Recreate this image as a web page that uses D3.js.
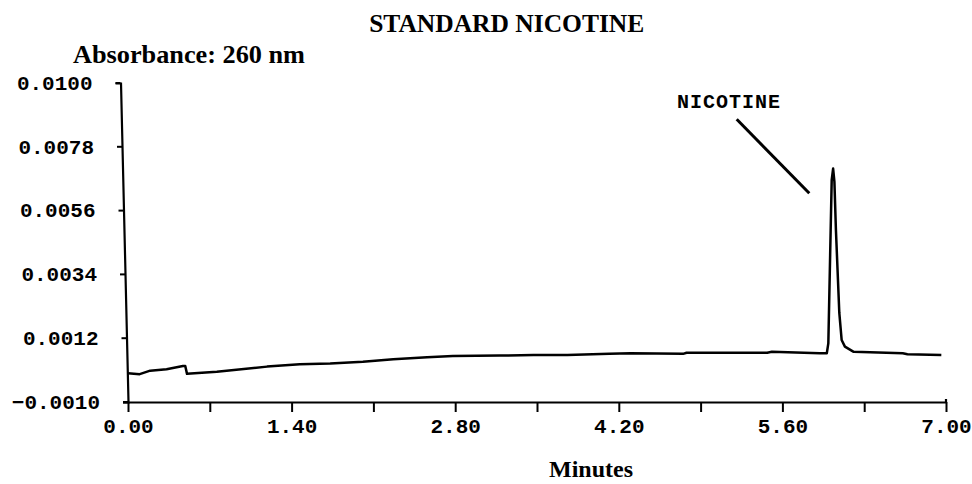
<!DOCTYPE html>
<html>
<head>
<meta charset="utf-8">
<script src="https://cdn.jsdelivr.net/npm/d3@7"></script>
<style>
  html, body { margin: 0; padding: 0; background: #fff; }
  svg { display: block; }
</style>
</head>
<body>
<svg id="chart" width="972" height="484"></svg>
<script>
// ---- data ----
const times = [0, 0.10, 0.19, 0.33, 0.47, 0.49, 0.505, 0.76, 1.19, 1.47, 1.73, 2.01, 2.27, 2.56, 2.78, 3.18, 3.47, 3.76, 4.12, 4.30, 4.75, 4.78, 5.47, 5.51, 5.92, 5.98, 5.993, 6.013, 6.022, 6.034, 6.045, 6.058, 6.087, 6.107, 6.135, 6.21, 6.63, 6.67, 6.96];
const absorbance = [-0.00001, -0.00004, 0.00008, 0.00013, 0.00024, 0.00024, -0.00003, 0.00004, 0.00022, 0.0003, 0.00033, 0.00039, 0.00047, 0.00054, 0.00059, 0.0006, 0.00062, 0.00062, 0.00066, 0.00068, 0.00066, 0.0007, 0.0007, 0.00073, 0.00068, 0.00068, 0.00102, 0.00493, 0.00666, 0.00705, 0.0066, 0.00493, 0.00207, 0.00114, 0.00091, 0.00073, 0.00068, 0.00065, 0.00062];
const xTicks = [0, 0.7, 1.4, 2.1, 2.8, 3.5, 4.2, 4.9, 5.6, 6.3, 7.0];
const xLabelTicks = [0, 1.4, 2.8, 4.2, 5.6, 7.0];
const yTicks = [-0.001, 0.0012, 0.0034, 0.0056, 0.0078, 0.01];
const peakLabel = ["NICOTINE"];
const peakLabelPos = [5.143, 0.00914];
const leader = [[5.209, 0.008748], [5.830, 0.0062]];
const titleText = "STANDARD NICOTINE";
const yTitleText = "Absorbance: 260 nm";
const xTitleText = "Minutes";

// ---- layout ----
const svg = d3.select("#chart");
const x = d3.scaleLinear().domain([0, 7]).range([128, 946]);
const y = d3.scaleLinear().domain([-0.001, 0.01]).range([402, 83]);
const mono = "'Liberation Mono', 'DejaVu Sans Mono', monospace";
const serif = "'Liberation Serif', 'Times New Roman', serif";
const skew = 0.0235; // the scanned y axis leans slightly

// x axis
const xAxis = svg.append("g")
  .attr("transform", `translate(0,${y(-0.001)})`)
  .call(d3.axisBottom(x)
    .tickValues(xTicks)
    .tickSize(10)
    .tickPadding(6)
    .tickSizeOuter(0)
    .tickFormat(d => xLabelTicks.some(v => Math.abs(v - d) < 1e-9) ? d3.format(".2f")(d) : ""));
xAxis.select(".domain").attr("stroke-width", 2.2)
  .attr("d", `M${x(0) - 5},0.5H${x(7)}V-3`);
xAxis.selectAll(".tick line").attr("stroke-width", 2);
xAxis.selectAll(".tick text")
  .attr("font-family", mono).attr("font-weight", "bold")
  .attr("font-size", 21).attr("fill", "#000");

// y axis
const yAxis = svg.append("g")
  .attr("transform", `translate(${x(0)},0)`)
  .call(d3.axisLeft(y)
    .tickValues(yTicks)
    .tickSize(5)
    .tickPadding(23)
    .tickSizeOuter(5)
    .tickFormat(d3.format(".4f")));
yAxis.select(".domain").attr("stroke-width", 2.2)
  .attr("transform", `translate(0,${y(-0.001)}) skewX(${Math.atan(skew) * 180 / Math.PI}) translate(0,${-y(-0.001)})`);
yAxis.selectAll(".tick")
  .attr("transform", d => `translate(${skew * (y(d) - y(-0.001))},${y(d)})`);
yAxis.selectAll(".tick line").attr("stroke-width", 2);
yAxis.selectAll(".tick text")
  .attr("font-family", mono).attr("font-weight", "bold")
  .attr("font-size", 21).attr("fill", "#000");

// trace
const pts = times.map((t, i) => [t, absorbance[i]]);
svg.append("path")
  .datum(pts)
  .attr("fill", "none")
  .attr("stroke", "#000")
  .attr("stroke-width", 2.5)
  .attr("stroke-linejoin", "round")
  .attr("d", d3.line().x(d => x(d[0])).y(d => y(d[1])));

// peak annotation
svg.append("text")
  .attr("x", x(peakLabelPos[0])).attr("y", y(peakLabelPos[1]))
  .attr("text-anchor", "middle")
  .attr("font-family", mono).attr("font-weight", "bold").attr("font-size", 20)
  .attr("letter-spacing", 1)
  .text(peakLabel[0]);
svg.append("line")
  .attr("x1", x(leader[0][0])).attr("y1", y(leader[0][1]))
  .attr("x2", x(leader[1][0])).attr("y2", y(leader[1][1]))
  .attr("stroke", "#000").attr("stroke-width", 3);

// titles
svg.append("text")
  .attr("x", 506.7).attr("y", 31.5)
  .attr("text-anchor", "middle")
  .attr("font-family", serif).attr("font-weight", "bold").attr("font-size", 25.5)
  .text(titleText);
svg.append("text")
  .attr("x", 73).attr("y", 62.7)
  .attr("font-family", serif).attr("font-weight", "bold").attr("font-size", 25)
  .attr("textLength", 232).attr("lengthAdjust", "spacingAndGlyphs")
  .text(yTitleText);
svg.append("text")
  .attr("x", 591).attr("y", 477)
  .attr("text-anchor", "middle")
  .attr("font-family", serif).attr("font-weight", "bold").attr("font-size", 24)
  .text(xTitleText);
</script>
</body>
</html>
